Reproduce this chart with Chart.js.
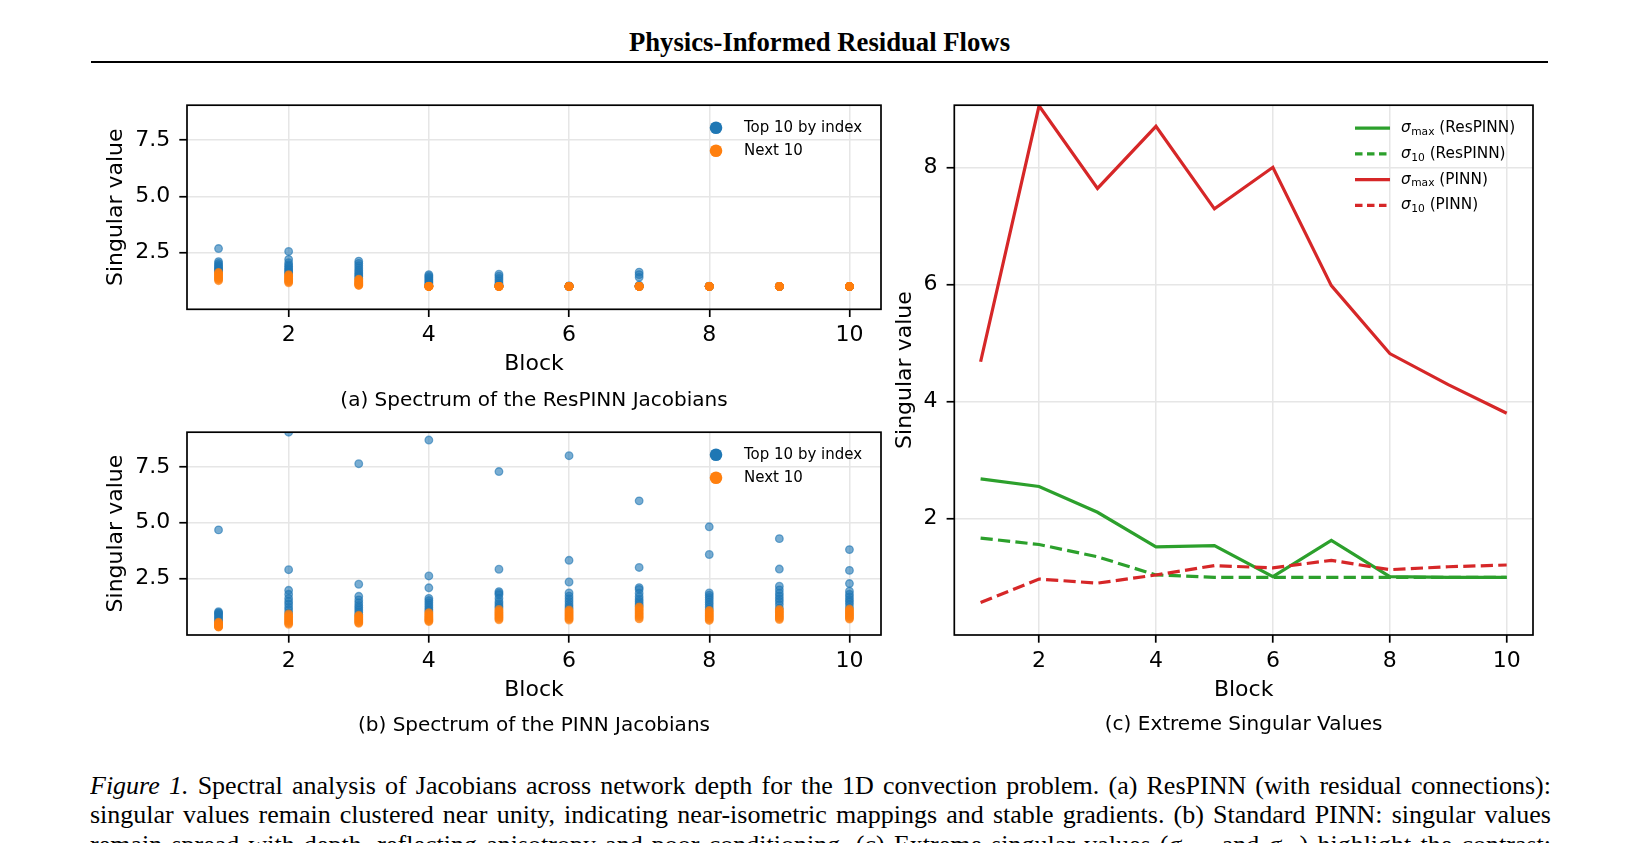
<!DOCTYPE html>
<html><head><meta charset="utf-8">
<script src="https://cdn.jsdelivr.net/npm/chart.js@4.4.1/dist/chart.umd.min.js"></script>
<style>
html,body{margin:0;padding:0;background:#fff;width:1639px;height:843px;overflow:hidden;}
.abs{position:absolute;}
#title{left:0;top:29.3px;width:1639px;text-align:center;font:bold 26.7px/26.7px "Liberation Serif","Times New Roman",serif;color:#000;}
#rule{left:91px;top:60.5px;width:1457px;height:2.8px;background:#000;}
.sub{font:20px/24px "DejaVu Sans";color:#000;text-align:center;}
.chartbox{position:absolute;}
#caption{left:90px;top:771px;width:1461px;font:26px/29.3px "Liberation Serif","Times New Roman",serif;color:#000;}
#caption .ln{text-align:justify;text-align-last:justify;height:29.3px;overflow:hidden;}
#caption sub{font-size:70%;line-height:0;}
</style>
</head>
<body>
<div id="title" class="abs">Physics-Informed Residual Flows</div>
<div id="rule" class="abs"></div>

<div class="chartbox" style="left:100px;top:83px;width:800px;height:307px;"><canvas id="cRes"></canvas></div>
<div class="chartbox" style="left:100px;top:410px;width:800px;height:305px;"><canvas id="cPinn"></canvas></div>
<div class="chartbox" style="left:880px;top:83px;width:680px;height:632px;"><canvas id="cExt"></canvas></div>

<div class="abs sub" style="left:134px;top:386.5px;width:800px;">(a) Spectrum of the ResPINN Jacobians</div>
<div class="abs sub" style="left:134px;top:712px;width:800px;">(b) Spectrum of the PINN Jacobians</div>
<div class="abs sub" style="left:943.6px;top:711px;width:600px;">(c) Extreme Singular Values</div>

<div id="caption" class="abs">
<div class="ln"><i>Figure 1.</i> Spectral analysis of Jacobians across network depth for the 1D convection problem. (a) ResPINN (with residual connections):</div>
<div class="ln">singular values remain clustered near unity, indicating near-isometric mappings and stable gradients. (b) Standard PINN: singular values</div>
<div class="ln">remain spread with depth, reflecting anisotropy and poor conditioning. (c) Extreme singular values (<i>σ</i><sub>max</sub> and <i>σ</i><sub>10</sub>) highlight the contrast:</div>
</div>

<script>
// ---------------- DATA ----------------
const blocks = [1, 2, 3, 4, 5, 6, 7, 8, 9, 10];
const xTicks = [2, 4, 6, 8, 10];
const yTicksSpectrum = [2.5, 5.0, 7.5];
const yTicksExtreme = [2, 4, 6, 8];

// ResPINN: top 10 singular values per block
const resTop10 = [
  [2.68, 2.10, 2.02, 1.95, 1.90, 1.84, 1.80, 1.75, 1.70, 1.66],
  [2.55, 2.20, 2.05, 1.95, 1.88, 1.80, 1.74, 1.68, 1.62, 1.56],
  [2.12, 2.02, 1.92, 1.82, 1.72, 1.64, 1.56, 1.50, 1.44, 1.36],
  [1.52, 1.46, 1.40, 1.34, 1.28, 1.22, 1.16, 1.10, 1.05, 1.02],
  [1.54, 1.45, 1.35, 1.25, 1.15, 1.08, 1.04, 1.02, 1.01, 1.00],
  [1.02, 1.01, 1.00, 1.00, 1.00, 1.00, 1.00, 1.00, 1.00, 1.00],
  [1.63, 1.52, 1.40, 1.05, 1.02, 1.00, 1.00, 1.00, 1.00, 1.00],
  [1.01, 1.00, 1.00, 1.00, 1.00, 1.00, 1.00, 1.00, 1.00, 1.00],
  [1.00, 1.00, 1.00, 1.00, 1.00, 1.00, 1.00, 1.00, 1.00, 1.00],
  [1.00, 1.00, 1.00, 1.00, 1.00, 1.00, 1.00, 1.00, 1.00, 1.00]
];
// ResPINN: next 10 singular values per block
const resNext10 = [
  [1.62, 1.58, 1.54, 1.50, 1.46, 1.42, 1.38, 1.34, 1.30, 1.25],
  [1.52, 1.48, 1.44, 1.40, 1.36, 1.32, 1.28, 1.24, 1.20, 1.16],
  [1.32, 1.28, 1.24, 1.20, 1.17, 1.14, 1.11, 1.08, 1.06, 1.04],
  [1.01, 1.00, 1.00, 1.00, 1.00, 1.00, 1.00, 1.00, 1.00, 1.00],
  [1.00, 1.00, 1.00, 1.00, 1.00, 1.00, 1.00, 1.00, 1.00, 1.00],
  [1.00, 1.00, 1.00, 1.00, 1.00, 1.00, 1.00, 1.00, 1.00, 1.00],
  [1.00, 1.00, 1.00, 1.00, 1.00, 1.00, 1.00, 1.00, 1.00, 1.00],
  [1.00, 1.00, 1.00, 1.00, 1.00, 1.00, 1.00, 1.00, 1.00, 1.00],
  [1.00, 1.00, 1.00, 1.00, 1.00, 1.00, 1.00, 1.00, 1.00, 1.00],
  [1.00, 1.00, 1.00, 1.00, 1.00, 1.00, 1.00, 1.00, 1.00, 1.00]
];
// PINN: top 10 singular values per block
const pinnTop10 = [
  [4.68, 1.02, 0.98, 0.94, 0.88, 0.82, 0.76, 0.70, 0.63, 0.57],
  [9.05, 2.90, 1.98, 1.80, 1.62, 1.48, 1.36, 1.22, 1.10, 0.97],
  [7.64, 2.25, 1.71, 1.55, 1.42, 1.30, 1.20, 1.10, 1.00, 0.90],
  [8.70, 2.62, 2.09, 1.62, 1.52, 1.42, 1.32, 1.22, 1.12, 1.04],
  [7.29, 2.92, 1.92, 1.85, 1.78, 1.62, 1.48, 1.38, 1.28, 1.20],
  [8.00, 3.32, 2.35, 1.86, 1.72, 1.60, 1.48, 1.36, 1.25, 1.16],
  [5.98, 3.00, 2.10, 2.02, 1.85, 1.70, 1.58, 1.48, 1.38, 1.29],
  [4.82, 3.58, 1.86, 1.76, 1.66, 1.56, 1.45, 1.34, 1.23, 1.13],
  [4.29, 2.93, 2.16, 2.00, 1.85, 1.72, 1.60, 1.48, 1.34, 1.18],
  [3.80, 2.87, 2.28, 1.94, 1.80, 1.68, 1.56, 1.46, 1.34, 1.20]
];
// PINN: next 10 singular values per block
const pinnNext10 = [
  [0.55, 0.52, 0.49, 0.46, 0.43, 0.41, 0.39, 0.37, 0.35, 0.33],
  [0.92, 0.86, 0.81, 0.76, 0.71, 0.66, 0.61, 0.56, 0.51, 0.46],
  [0.86, 0.82, 0.78, 0.74, 0.70, 0.66, 0.62, 0.58, 0.54, 0.50],
  [0.98, 0.93, 0.88, 0.83, 0.78, 0.74, 0.70, 0.66, 0.62, 0.58],
  [1.12, 1.06, 1.01, 0.96, 0.91, 0.86, 0.81, 0.76, 0.71, 0.66],
  [1.10, 1.05, 1.00, 0.95, 0.90, 0.85, 0.80, 0.75, 0.70, 0.65],
  [1.24, 1.18, 1.12, 1.06, 1.00, 0.94, 0.88, 0.82, 0.76, 0.70],
  [1.08, 1.03, 0.98, 0.93, 0.88, 0.83, 0.78, 0.73, 0.68, 0.63],
  [1.12, 1.07, 1.02, 0.97, 0.92, 0.87, 0.82, 0.77, 0.72, 0.67],
  [1.14, 1.09, 1.04, 0.99, 0.94, 0.89, 0.84, 0.79, 0.74, 0.69]
];
// Extreme singular values
const sigmaMaxRes  = [2.68, 2.55, 2.11, 1.52, 1.54, 1.01, 1.63, 1.01, 1.00, 1.00];
const sigma10Res   = [1.67, 1.56, 1.35, 1.04, 1.00, 1.00, 1.00, 1.00, 1.00, 1.00];
const sigmaMaxPinn = [4.68, 9.05, 7.64, 8.70, 7.29, 8.00, 5.98, 4.82, 4.29, 3.80];
const sigma10Pinn  = [0.57, 0.97, 0.90, 1.04, 1.20, 1.16, 1.29, 1.13, 1.18, 1.21];

// ---------------- STYLE ----------------
Chart.defaults.font.family = '"DejaVu Sans", sans-serif';
Chart.defaults.color = '#000';
const BLUE = '#1f77b4', ORANGE = '#ff7f0e', GREEN = '#2ca02c', RED = '#d62728';
const BLUE_A = 'rgba(31,119,180,0.6)', ORANGE_A = 'rgba(255,127,14,0.6)';
const GRID = '#e6e6e6';
const AX_FONT = 22;

const toPts = (vals2d) => blocks.flatMap((b, i) => vals2d[i].map(v => ({x: b, y: v})));
const toLine = (vals) => blocks.map((b, i) => ({x: b, y: vals[i]}));

function xScale(hx) {
  return {
    type: 'linear', min: 0.55, max: 10.45,
    afterBuildTicks: s => { s.ticks = xTicks.map(v => ({value: v})); },
    afterFit: s => { s.height = hx; },
    ticks: {color: '#000', font: {size: AX_FONT}, padding: 5, autoSkip: false, maxRotation: 0,
            callback: v => String(v)},
    grid: {color: GRID, lineWidth: 1.5, tickLength: 7.7, tickColor: '#000', tickWidth: 1.7},
    border: {display: false},
    title: {display: true, text: 'Block', color: '#000', font: {size: AX_FONT}, padding: 0}
  };
}
function yScale(wy, min, max, ticks, fmt) {
  return {
    type: 'linear', min: min, max: max,
    afterBuildTicks: s => { s.ticks = ticks.map(v => ({value: v})); },
    afterFit: s => { s.width = wy; },
    ticks: {color: '#000', font: {size: AX_FONT}, padding: 9, autoSkip: false, callback: fmt},
    grid: {color: GRID, lineWidth: 1.5, tickLength: 7.7, tickColor: '#000', tickWidth: 1.7},
    border: {display: false},
    title: {display: true, text: 'Singular value', color: '#000', font: {size: AX_FONT}, padding: 0}
  };
}

const boxPlugin = {
  id: 'box',
  afterDraw(chart) {
    const {ctx, chartArea: a} = chart;
    ctx.save();
    ctx.strokeStyle = '#000'; ctx.lineWidth = 1.7;
    ctx.strokeRect(a.left, a.top, a.right - a.left, a.bottom - a.top);
    ctx.restore();
  }
};

const scatterLegend = {
  id: 'scatterLegend',
  afterDraw(chart, args, opts) {
    if (!opts || !opts.items) return;
    const {ctx, chartArea: a} = chart;
    ctx.save();
    opts.items.forEach((it, i) => {
      const y = a.top + 22.6 + i * 23;
      ctx.beginPath(); ctx.arc(a.right - 165, y, 6.3, 0, Math.PI * 2);
      ctx.fillStyle = it.color; ctx.fill();
      ctx.font = '15px "DejaVu Sans"'; ctx.fillStyle = '#000';
      ctx.textBaseline = 'middle'; ctx.textAlign = 'left';
      ctx.fillText(it.text, a.right - 137, y);
    });
    ctx.restore();
  }
};

const lineLegend = {
  id: 'lineLegend',
  afterDraw(chart, args, opts) {
    if (!opts || !opts.items) return;
    const {ctx, chartArea: a} = chart;
    ctx.save();
    opts.items.forEach((it, i) => {
      const y = a.top + 23 + i * 25.7;
      ctx.beginPath();
      ctx.strokeStyle = it.color; ctx.lineWidth = 3.2;
      ctx.setLineDash(it.dash || []);
      ctx.moveTo(a.right - 178, y); ctx.lineTo(a.right - 143, y); ctx.stroke();
      ctx.setLineDash([]);
      ctx.fillStyle = '#000'; ctx.textBaseline = 'middle'; ctx.textAlign = 'left';
      let x = a.right - 132;
      ctx.font = 'italic 15.3px "DejaVu Sans"';
      ctx.fillText('σ', x, y); x += ctx.measureText('σ').width + 0.5;
      ctx.font = '10.7px "DejaVu Sans"';
      ctx.fillText(it.sub, x, y + 4); x += ctx.measureText(it.sub).width;
      ctx.font = '15.3px "DejaVu Sans"';
      ctx.fillText(' ' + it.rest, x, y);
    });
    ctx.restore();
  }
};

function scatterChart(id, top10, next10, pad, wy, hx) {
  return new Chart(document.getElementById(id), {
    type: 'scatter',
    data: {datasets: [
      {label: 'Top 10 by index', data: toPts(top10), backgroundColor: BLUE_A, borderColor: BLUE_A,
       borderWidth: 1.3, pointRadius: 3.8, order: 1, clip: 0},
      {label: 'Next 10', data: toPts(next10), backgroundColor: ORANGE_A, borderColor: ORANGE_A,
       borderWidth: 1.3, pointRadius: 3.8, order: 0, clip: 0}
    ]},
    options: {
      responsive: true, maintainAspectRatio: false, animation: false,
      layout: {padding: pad},
      scales: {x: xScale(hx), y: yScale(wy, -0.02, 9.05, yTicksSpectrum, v => v.toFixed(1))},
      plugins: {legend: {display: false}, tooltip: {enabled: false},
        scatterLegend: {items: [{text: 'Top 10 by index', color: BLUE}, {text: 'Next 10', color: ORANGE}]}}
    },
    plugins: [boxPlugin, scatterLegend]
  });
}

scatterChart('cRes', resTop10, resNext10, {left: 2.8, top: 0, right: 19, bottom: 12.8}, 84.2, 67.9);
scatterChart('cPinn', pinnTop10, pinnNext10, {left: 2.8, top: 0, right: 19, bottom: 11.8}, 84.2, 68.2);

new Chart(document.getElementById('cExt'), {
  type: 'line',
  data: {datasets: [
    {data: toLine(sigmaMaxRes), borderColor: GREEN, borderWidth: 3.2, pointRadius: 0, order: 3, clip: 0, tension: 0},
    {data: toLine(sigma10Res), borderColor: GREEN, borderWidth: 3.2, borderDash: [12.2, 5.3], pointRadius: 0, order: 2, clip: 0},
    {data: toLine(sigmaMaxPinn), borderColor: RED, borderWidth: 3.2, pointRadius: 0, order: 1, clip: 0},
    {data: toLine(sigma10Pinn), borderColor: RED, borderWidth: 3.2, borderDash: [12.2, 5.3], pointRadius: 0, order: 0, clip: 0}
  ]},
  options: {
    responsive: true, maintainAspectRatio: false, animation: false,
    layout: {padding: {left: 12.2, top: 0, right: 27, bottom: 11.8}},
    scales: {x: xScale(68.2), y: yScale(62.1, 0.015, 9.06, yTicksExtreme, v => String(v))},
    plugins: {legend: {display: false}, tooltip: {enabled: false},
      lineLegend: {items: [
        {color: GREEN, sub: 'max', rest: '(ResPINN)'},
        {color: GREEN, sub: '10', rest: '(ResPINN)', dash: [7.5, 4.5]},
        {color: RED, sub: 'max', rest: '(PINN)'},
        {color: RED, sub: '10', rest: '(PINN)', dash: [7.5, 4.5]}
      ]}}
  },
  plugins: [boxPlugin, lineLegend]
});
</script>
</body></html>
